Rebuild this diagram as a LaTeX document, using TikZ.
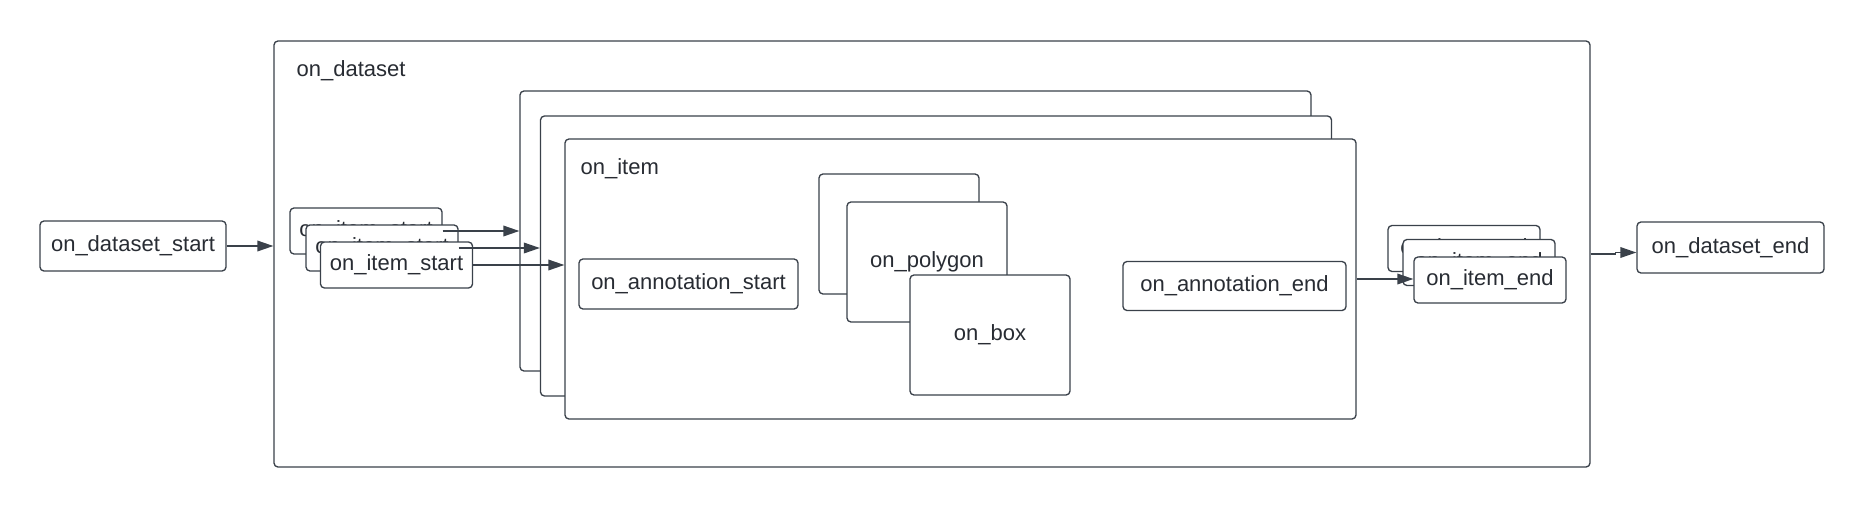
\documentclass[tikz,border=0pt]{standalone}
\usepackage{fontspec}
\setmainfont{Liberation Sans}
\usepackage{xcolor}
\usepackage{tikz}
\usetikzlibrary{positioning,arrows.meta}

\definecolor{linegray}{HTML}{3A414A}
\definecolor{textgray}{HTML}{282C33}

\begin{document}
\begin{tikzpicture}[
        x = 0.75pt, y = -0.75pt,
        box/.style = {draw=linegray, fill=white, line width=1pt, rounded corners=3pt,
            inner sep=0pt, text=textgray, font=\fontsize{16.5}{19.8}\selectfont},
        evt/.style = {box, minimum width=114pt, minimum height=34.5pt},
        frame/.style = {box, minimum width=593.25pt, minimum height=210pt},
        sub/.style = {box, minimum width=120pt, minimum height=90pt},
        caption/.style = {inner sep=0pt, text=textgray, font=\fontsize{16.5}{19.8}\selectfont},
        flow/.style = {draw=linegray, line width=1pt, -{Triangle[length=12pt, width=8pt]}}
    ]
    \useasboundingbox (0,0) rectangle (1864,507);
    % outer loop
    \node [box, minimum width=987pt, minimum height=319.5pt] (ds) at (932,254) {};
    \node [caption, below right = 15pt and 17.25pt of ds.north west] (dslabel) {on\_dataset};
    \node [box, minimum width=139.5pt, minimum height=37.5pt] (dss) at (133,246) {on\_dataset\_start};
    \node [box, minimum width=140.25pt, minimum height=38.25pt] (dse) at (1730.5,247.5) {on\_dataset\_end};
    % item frames
    \node [frame] (it1) at (915.5,231) {};
    \node [frame] (it2) at (936,256) {};
    \node [frame] (it3) at (960.5,279) {};
    \node [caption, below right = 15pt and 12pt of it3.north west] (itlabel) {on\_item};
    % item start / end
    \node [evt] (is1) at (366,231) {on\_item\_start};
    \node [evt] (is2) at (382,248) {on\_item\_start};
    \node [evt] (is3) at (396.5,265) {on\_item\_start};
    \node [evt] (ie1) at (1464,248.5) {on\_item\_end};
    \node [evt] (ie2) at (1479,262.5) {on\_item\_end};
    \node [evt] (ie3) at (1490,280) {on\_item\_end};
    % annotations
    \node [box, minimum width=164.25pt, minimum height=37.5pt] (as) at (688.5,284) {on\_annotation\_start};
    \node [box, minimum width=167.25pt, minimum height=36.75pt] (ae) at (1234.5,286) {on\_annotation\_end};
    \node [sub] (pg1) at (899,234) {};
    \node [sub] (pg2) at (927,262) {on\_polygon};
    \node [sub] (bx) at (990,335) {on\_box};
    % arrows
    \draw [flow] (dss.east) -- (dss.east -| ds.west);
    \draw [flow] (is1.east) -- (is1.east -| it1.west);
    \draw [flow] (is2.east) -- (is2.east -| it2.west);
    \draw [flow] (is3.east) -- (is3.east -| it3.west);
    \draw [flow] (it3.east) -- (it3.east -| ie3.west);
    \draw [flow] (ds.east) -- ++(25,0) |- ([yshift=-3.75pt]dse.west);
\end{tikzpicture}
\end{document}
